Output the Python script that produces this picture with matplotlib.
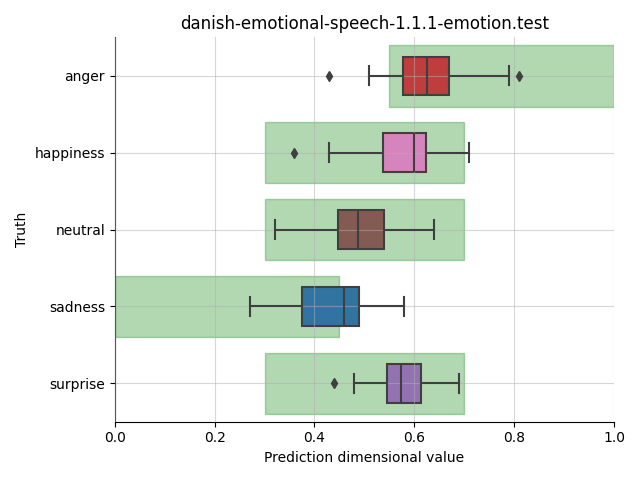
import matplotlib
matplotlib.use("Agg")
import matplotlib.pyplot as plt
import seaborn as sns

# Data
emotions = ["anger", "happiness", "neutral", "sadness", "surprise"]
box_colors = ["tab:red", "tab:pink", "tab:brown", "tab:blue", "tab:purple"]
whisker_low = [0.509, 0.429, 0.320, 0.271, 0.479]
q1 = [0.578, 0.538, 0.448, 0.376, 0.546]
medians = [0.625, 0.599, 0.488, 0.460, 0.574]
q3 = [0.669, 0.623, 0.539, 0.489, 0.613]
whisker_high = [0.790, 0.709, 0.639, 0.579, 0.689]
outliers = [[0.429, 0.810], [0.359], [], [], [0.440]]

# Expected range for each emotion (green areas)
range_low = [0.55, 0.30, 0.30, 0.00, 0.30]
range_high = [1.00, 0.70, 0.70, 0.45, 0.70]

stats = []
for i, name in enumerate(emotions):
    stats.append({
        "label": name,
        "whislo": whisker_low[i],
        "q1": q1[i],
        "med": medians[i],
        "q3": q3[i],
        "whishi": whisker_high[i],
        "fliers": outliers[i],
    })

fig, ax = plt.subplots(figsize=(6.4, 4.8), dpi=100)

pos = list(range(len(emotions)))
widths = [r - l for l, r in zip(range_low, range_high)]
ax.barh(pos, widths, left=range_low, height=0.8, color="green", alpha=0.3,
        edgecolor="green", linewidth=1, zorder=1)

gray = "#3f3f3f"
bp = ax.bxp(stats, positions=pos, vert=False, widths=0.5, patch_artist=True,
            boxprops=dict(edgecolor=gray, linewidth=1.5),
            whiskerprops=dict(color=gray, linewidth=1.5),
            capprops=dict(color=gray, linewidth=1.5),
            medianprops=dict(color=gray, linewidth=1.5),
            flierprops=dict(marker="d", markerfacecolor=gray, markeredgecolor=gray,
                            markersize=5))
for patch, c in zip(bp["boxes"], box_colors):
    patch.set_facecolor(sns.desaturate(c, 0.75))
    patch.set_zorder(2)
for key in ["whiskers", "caps", "medians", "fliers"]:
    for line in bp[key]:
        line.set_zorder(3)

ax.set_yticks(pos)
ax.set_yticklabels(emotions)
ax.set_ylim(len(emotions) - 0.5, -0.5)
ax.set_xlim(0, 1)
ax.grid(True, color="#b0b0b0", alpha=0.5, linewidth=0.8, zorder=4)
ax.set_axisbelow(False)
ax.spines["top"].set_visible(False)
ax.spines["right"].set_visible(False)

ax.set_title("danish-emotional-speech-1.1.1-emotion.test")
ax.set_xlabel("Prediction dimensional value")
ax.set_ylabel("Truth")

plt.tight_layout()
plt.savefig("out.png")
